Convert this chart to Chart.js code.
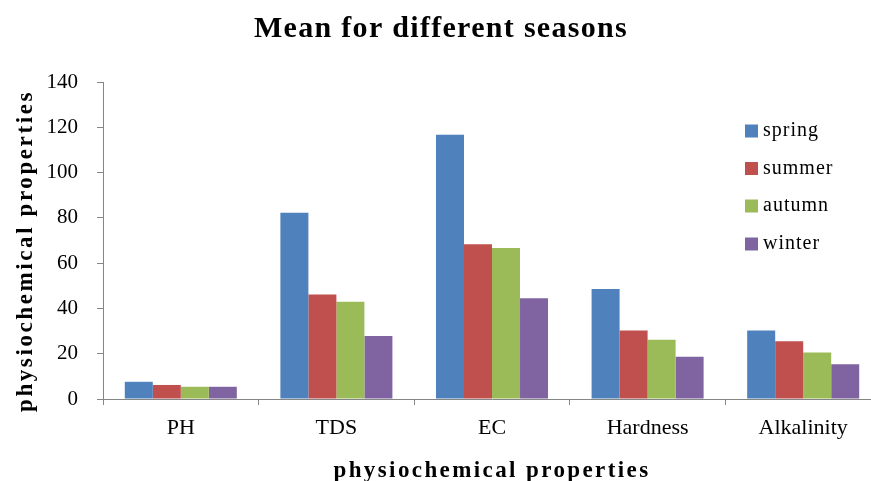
<!DOCTYPE html>
<html><head><meta charset="utf-8">
<script src="https://cdn.jsdelivr.net/npm/chart.js@4/dist/chart.umd.min.js"></script>
<style>html,body{margin:0;padding:0;overflow:hidden;background:#fff}#wrap{width:881px;height:481px;position:relative}</style>
</head><body><div id="wrap"><canvas id="c"></canvas></div>
<script>
const categories = ["PH", "TDS", "EC", "Hardness", "Alkalinity"];
const seriesNames = ["spring", "summer", "autumn", "winter"];
const spring = [7.6, 82.3, 116.7, 48.6, 30.3];
const summer = [6.2, 46.2, 68.3, 30.3, 25.5];
const autumn = [5.4, 43.0, 66.7, 26.2, 20.5];
const winter = [5.4, 27.8, 44.5, 18.7, 15.3];
const yTicks = [0, 20, 40, 60, 80, 100, 120, 140];
const colors = ["#4F81BD", "#C0504D", "#9BBB59", "#8064A2"];
const titleText = "Mean for different seasons";
const xTitle = "physiochemical properties";
const yTitle = "physiochemical properties";

const seriesValues = [spring, summer, autumn, winter];
const axisColor = "#868686";

const decor = {
  id: "decor",
  afterDraw(chart) {
    const ctx = chart.ctx;
    const hasLS = "letterSpacing" in ctx;
    function text(str, x, y, font, ls, align, baseline, rot) {
      ctx.save();
      ctx.font = font;
      ctx.fillStyle = "#000";
      if (hasLS) ctx.letterSpacing = ls + "px";
      ctx.textAlign = align;
      ctx.textBaseline = baseline;
      ctx.translate(x, y);
      if (rot) ctx.rotate(rot);
      ctx.fillText(str, 0, 0);
      ctx.restore();
    }
    text(titleText, 441, 37, "bold 30px 'Liberation Serif'", 1.3, "center", "alphabetic");
    text(xTitle, 492, 477, "bold 23px 'Liberation Serif'", 2.4, "center", "alphabetic");
    text(yTitle, 32, 251, "bold 23px 'Liberation Serif'", 2.6, "center", "alphabetic", -Math.PI / 2);
    // legend
    const ys = [131, 168.5, 206, 244];
    chart.data.datasets.forEach((ds, i) => {
      ctx.save();
      ctx.fillStyle = ds.backgroundColor;
      ctx.fillRect(745, ys[i] - 6.5, 13, 13);
      ctx.restore();
      text(ds.label, 763, ys[i], "20px 'Liberation Serif'", 1, "left", "middle");
    });
  }
};

new Chart(document.getElementById("c"), {
  type: "bar",
  data: {
    labels: categories,
    datasets: seriesNames.map((n, i) => ({
      label: n,
      data: seriesValues[i],
      backgroundColor: colors[i],
      borderWidth: 0,
      categoryPercentage: 0.72,
      barPercentage: 1.0
    }))
  },
  options: {
    responsive: true,
    maintainAspectRatio: false,
    animation: false,
    layout: { padding: { top: 82, left: 0, right: 0, bottom: 0 } },
    plugins: { legend: { display: false }, title: { display: false }, tooltip: { enabled: false } },
    scales: {
      x: {
        grid: { display: true, drawOnChartArea: false, offset: true, tickLength: 6, color: axisColor, tickColor: axisColor },
        border: { display: true, color: axisColor, width: 1 },
        ticks: { color: "#000", font: { family: "'Liberation Serif'", size: 22 }, padding: 10, maxRotation: 0 },
        afterFit: s => { s.height = 82; }
      },
      y: {
        min: 0, max: 140,
        afterBuildTicks: s => { s.ticks = yTicks.map(v => ({ value: v })); },
        grid: { display: true, drawOnChartArea: false, tickLength: 6, color: axisColor, tickColor: axisColor },
        border: { display: true, color: axisColor, width: 1 },
        ticks: { color: "#000", font: { family: "'Liberation Serif'", size: 21 }, padding: 19 },
        afterFit: s => { s.width = 103; }
      }
    }
  },
  plugins: [decor]
});
</script></body></html>
